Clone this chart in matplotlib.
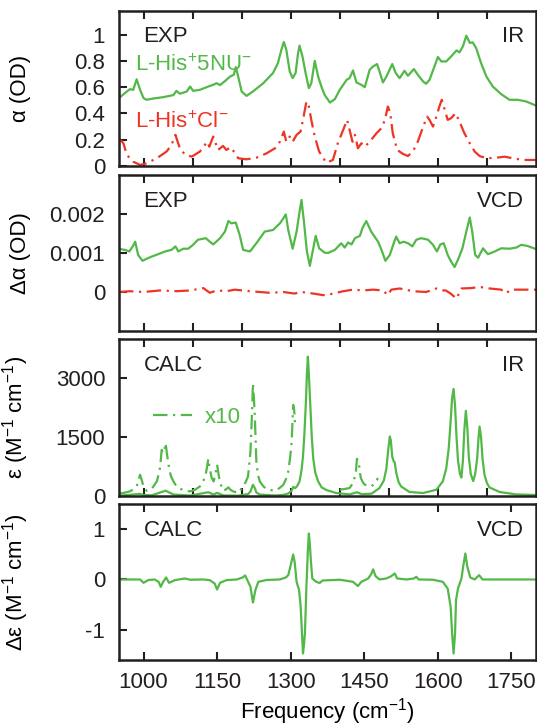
import matplotlib
matplotlib.use('Agg')
import matplotlib.pyplot as plt

# font: helvetica-like
plt.rcParams['font.family'] = ['Liberation Sans', 'DejaVu Sans']
plt.rcParams['mathtext.fontset'] = 'custom'
plt.rcParams['mathtext.rm'] = 'Liberation Sans'
plt.rcParams['mathtext.it'] = 'Liberation Sans:italic'
plt.rcParams['mathtext.default'] = 'regular'

# ---- data: (frequency cm-1, value) ----
# panel 1, experimental IR (OD)
exp_ir_5nu = [(950, 0.52), (952, 0.524), (962, 0.555), (972, 0.585), (979, 0.58), (986, 0.66),
              (993, 0.58), (1000, 0.517), (1006, 0.504), (1020, 0.514), (1040, 0.524), (1061, 0.54),
              (1067, 0.572), (1074, 0.55), (1088, 0.567), (1095, 0.605), (1101, 0.572), (1115, 0.58),
              (1132, 0.605), (1142, 0.618), (1149, 0.63), (1156, 0.616), (1169, 0.656), (1176, 0.68),
              (1184, 0.695), (1188, 0.753), (1193, 0.68), (1200, 0.567), (1210, 0.534), (1223, 0.567),
              (1244, 0.63), (1264, 0.708), (1274, 0.784), (1281, 0.885), (1286, 0.944), (1291, 0.885),
              (1298, 0.72), (1304, 0.669), (1310, 0.708), (1315, 0.86), (1318, 0.916), (1324, 0.834),
              (1331, 0.695), (1337, 0.593), (1342, 0.63), (1349, 0.80), (1356, 0.68), (1363, 0.60),
              (1369, 0.542), (1380, 0.483), (1390, 0.509), (1400, 0.58), (1414, 0.656), (1420, 0.669),
              (1427, 0.727), (1434, 0.636), (1444, 0.618), (1451, 0.60), (1461, 0.733), (1468, 0.758),
              (1476, 0.776), (1481, 0.72), (1488, 0.636), (1495, 0.68), (1507, 0.776), (1514, 0.708),
              (1522, 0.669), (1532, 0.725), (1539, 0.687), (1551, 0.738), (1559, 0.695), (1570, 0.643),
              (1576, 0.626), (1583, 0.656), (1593, 0.758), (1600, 0.83), (1607, 0.796), (1617, 0.796),
              (1627, 0.834), (1638, 0.88), (1644, 0.865), (1651, 0.911), (1658, 0.992), (1665, 0.937),
              (1671, 0.941), (1678, 0.898), (1688, 0.784), (1699, 0.68), (1712, 0.605), (1729, 0.547),
              (1746, 0.504), (1763, 0.504), (1780, 0.491), (1800, 0.46)]

exp_ir_cl = [(950, 0.21), (953, 0.198), (959, 0.173), (966, 0.084), (979, 0.033), (993, 0.008),
             (1006, 0.02), (1027, 0.059), (1047, 0.11), (1057, 0.16), (1065, 0.237), (1074, 0.135),
             (1084, 0.089), (1098, 0.071), (1115, 0.11), (1125, 0.16), (1130, 0.185), (1134, 0.147),
             (1142, 0.224), (1147, 0.173), (1152, 0.122), (1162, 0.153), (1169, 0.122), (1177, 0.143),
             (1186, 0.102), (1193, 0.059), (1210, 0.051), (1230, 0.063), (1251, 0.097), (1268, 0.135),
             (1278, 0.185), (1286, 0.262), (1291, 0.185), (1298, 0.224), (1304, 0.185), (1312, 0.237),
             (1320, 0.262), (1325, 0.351), (1332, 0.491), (1337, 0.453), (1342, 0.351), (1349, 0.224),
             (1358, 0.11), (1369, 0.045), (1373, 0.025), (1386, 0.046), (1396, 0.173), (1407, 0.275),
             (1415, 0.351), (1420, 0.275), (1426, 0.185), (1431, 0.237), (1437, 0.135), (1444, 0.173),
             (1451, 0.147), (1461, 0.185), (1475, 0.25), (1485, 0.288), (1492, 0.351), (1498, 0.453),
             (1503, 0.402), (1508, 0.25), (1517, 0.122), (1529, 0.092), (1539, 0.076), (1549, 0.11),
             (1559, 0.185), (1570, 0.30), (1578, 0.376), (1583, 0.351), (1590, 0.30), (1597, 0.376),
             (1603, 0.453), (1608, 0.504), (1614, 0.427), (1620, 0.351), (1627, 0.364), (1636, 0.402),
             (1644, 0.338), (1654, 0.25), (1665, 0.173), (1675, 0.11), (1685, 0.076), (1699, 0.059),
             (1719, 0.063), (1736, 0.071), (1753, 0.059), (1773, 0.046), (1800, 0.046)]

# panel 2, experimental VCD (OD)
exp_vcd_5nu = [(950, 0.00110), (952, 0.0011), (962, 0.00108), (971, 0.00104), (978, 0.00117),
               (983, 0.00129), (989, 0.00095), (998, 0.0008), (1006, 0.00085), (1017, 0.00091),
               (1030, 0.00097), (1044, 0.00104), (1057, 0.00108), (1065, 0.00117), (1071, 0.00104),
               (1081, 0.00111), (1091, 0.00111), (1101, 0.00121), (1111, 0.00134), (1127, 0.00138),
               (1135, 0.00129), (1142, 0.00122), (1156, 0.00138), (1166, 0.00155), (1173, 0.00182),
               (1179, 0.00176), (1188, 0.00178), (1196, 0.00146), (1203, 0.00108), (1217, 0.00104),
               (1230, 0.00125), (1247, 0.00155), (1264, 0.00159), (1278, 0.00176), (1285, 0.00189),
               (1290, 0.00199), (1295, 0.00159), (1304, 0.00111), (1312, 0.00155), (1317, 0.00197),
               (1322, 0.00236), (1327, 0.0018), (1333, 0.00104), (1339, 0.00067), (1346, 0.00112),
               (1351, 0.00144), (1358, 0.00112), (1369, 0.00101), (1376, 0.001), (1390, 0.00108),
               (1403, 0.00125), (1410, 0.00114), (1417, 0.00127), (1424, 0.00122), (1431, 0.00138),
               (1441, 0.00144), (1446, 0.00163), (1454, 0.00182), (1464, 0.00155), (1478, 0.00129),
               (1485, 0.00108), (1493, 0.0008), (1502, 0.00095), (1510, 0.00125), (1515, 0.00142),
               (1522, 0.00125), (1530, 0.00129), (1539, 0.00125), (1548, 0.00117), (1556, 0.00134),
               (1566, 0.00138), (1580, 0.00134), (1590, 0.00121), (1598, 0.00104), (1605, 0.00122),
               (1612, 0.00125), (1620, 0.00095), (1627, 0.00078), (1634, 0.00064), (1641, 0.00083),
               (1650, 0.00112), (1658, 0.00155), (1665, 0.00191), (1670, 0.00155), (1676, 0.00095),
               (1682, 0.00088), (1692, 0.00112), (1702, 0.00097), (1716, 0.00104), (1729, 0.00112),
               (1746, 0.00111), (1760, 0.00114), (1770, 0.00121), (1783, 0.00118), (1800, 0.0011)]

exp_vcd_cl = [(950, 0.0), (972, 0.00002), (1000, 0.0), (1034, 0.00004), (1067, 0.00002),
              (1095, 0.00004), (1122, 0.0001), (1135, -0.00002), (1149, 0.00004), (1169, 0.00002),
              (1186, 0.00006), (1217, 0.00002), (1237, 0.0), (1257, -0.00002), (1285, 0.0),
              (1308, -0.00004), (1322, 0.0), (1346, -0.00004), (1366, -0.00008), (1373, -0.00008),
              (1390, -0.00003), (1407, 0.00002), (1427, 0.00006), (1448, 0.00004), (1468, 0.00006),
              (1488, 0.00004), (1498, -0.00008), (1505, 0.00006), (1522, 0.00009), (1550, 0.00002),
              (1576, 0.0), (1597, 0.00009), (1607, 0.00004), (1616, 0.00004), (1626, -0.00004),
              (1638, -0.00017), (1648, 0.00009), (1668, 0.0001), (1685, 0.00013), (1706, 0.00009),
              (1729, 0.00006), (1739, -0.00003), (1749, 0.00006), (1800, 0.00006)]

# panel 3, calculated IR (M-1 cm-1)
calc_ir = [(950, 6), (993, 54), (1000, 24), (1017, 19), (1045, 135), (1061, 37), (1095, 12),
           (1132, 95), (1143, 37), (1150, 80), (1163, 14), (1193, 8), (1213, 50), (1218, 113),
           (1223, 287), (1227, 198), (1230, 88), (1237, 37), (1268, 14), (1285, 29), (1295, 63),
           (1302, 139), (1305, 232), (1309, 200), (1313, 250), (1318, 371), (1322, 650), (1325, 1000),
           (1328, 1600), (1331, 2400), (1333, 3100), (1335, 3550), (1337, 3100), (1340, 2300),
           (1343, 1500), (1346, 950), (1350, 600), (1356, 371), (1363, 220), (1373, 150), (1393, 76),
           (1420, 40), (1435, 95), (1445, 45), (1465, 60), (1481, 203), (1490, 400), (1495, 700),
           (1499, 1200), (1502, 1515), (1504, 1420), (1507, 1000), (1510, 880), (1512, 860),
           (1515, 600), (1520, 350), (1525, 244), (1542, 102), (1570, 76), (1597, 160), (1610, 371),
           (1617, 700), (1622, 1200), (1626, 1900), (1629, 2500), (1632, 2727), (1635, 2300),
           (1638, 1500), (1641, 900), (1645, 560), (1648, 470), (1651, 900), (1654, 1700),
           (1657, 2168), (1660, 1750), (1663, 1000), (1667, 560), (1672, 380), (1676, 560),
           (1680, 950), (1683, 1500), (1685, 1770), (1688, 1500), (1691, 950), (1695, 541),
           (1700, 330), (1705, 219), (1726, 102), (1760, 40), (1800, 25)]

# x10 magnified parts of the calculated IR
calc_ir_x10_a = [(950, 60), (960, 80), (972, 117), (981, 180), (986, 244), (990, 420), (993, 541),
                 (996, 420), (1000, 244), (1006, 135), (1017, 186), (1027, 371), (1031, 560),
                 (1034, 752), (1037, 1177), (1040, 1100), (1042, 1134), (1045, 1347), (1048, 1050),
                 (1052, 712), (1056, 500), (1061, 371), (1067, 250), (1074, 186), (1085, 140),
                 (1095, 117), (1105, 160), (1115, 244), (1125, 458), (1129, 700), (1132, 948),
                 (1135, 700), (1139, 458), (1143, 371), (1147, 600), (1150, 796), (1153, 550),
                 (1156, 330), (1163, 135), (1168, 170), (1173, 219), (1178, 150), (1183, 117),
                 (1193, 76), (1203, 244), (1208, 350), (1213, 498), (1218, 1134), (1221, 2066),
                 (1223, 2873), (1225, 2500), (1227, 1983), (1230, 880), (1233, 550), (1237, 371),
                 (1244, 250), (1250, 186), (1260, 150), (1268, 135), (1277, 200), (1285, 287),
                 (1290, 420), (1295, 625), (1299, 1000), (1302, 1388), (1304, 2000), (1305, 2321),
                 (1307, 2200), (1309, 1812)]
calc_ir_x10_b = [(1400, 160), (1410, 180), (1420, 203), (1427, 330), (1431, 500), (1433, 625),
                 (1435, 948), (1437, 900), (1439, 839), (1441, 600), (1443, 458), (1447, 350),
                 (1451, 287), (1457, 260), (1464, 244), (1470, 300), (1478, 458)]

# panel 4, calculated VCD (M-1 cm-1)
calc_vcd = [(950, 0), (993, 0), (1000, -0.066), (1010, -0.01), (1023, 0), (1031, -0.05),
            (1035, -0.146), (1040, -0.046), (1046, 0.04), (1052, -0.066), (1064, -0.013), (1084, 0.02),
            (1095, -0.005), (1122, 0), (1135, -0.013), (1145, -0.08), (1150, -0.2), (1156, -0.066),
            (1169, -0.013), (1190, 0), (1202, 0.04), (1207, 0.08), (1211, 0), (1218, -0.146),
            (1223, -0.457), (1228, -0.212), (1234, -0.046), (1251, -0.01), (1278, 0), (1290, 0.04),
            (1295, 0.086), (1300, 0.285), (1305, 0.497), (1308, 0.35), (1312, -0.046), (1317, -0.212),
            (1320, -0.5), (1322, -0.875), (1325, -1.47), (1327, -1.3), (1329, -1.07), (1332, -0.146),
            (1335, 0.583), (1337, 0.914), (1339, 0.7), (1341, 0.385), (1344, 0.02), (1352, -0.046),
            (1359, -0.07), (1365, -0.02), (1400, -0.005), (1427, -0.046), (1437, -0.13), (1444, -0.046),
            (1458, 0.02), (1464, 0.106), (1468, 0.2), (1473, 0.066), (1481, 0), (1495, 0.02),
            (1505, 0.066), (1512, 0.12), (1517, 0.02), (1536, 0), (1551, 0.02), (1556, 0.053),
            (1561, 0), (1590, -0.005), (1610, -0.046), (1620, -0.18), (1626, -0.543), (1629, -1.07),
            (1632, -1.47), (1635, -1.07), (1637, -0.41), (1641, -0.18), (1648, 0.02), (1652, 0.285),
            (1656, 0.517), (1660, 0.252), (1666, 0.04), (1675, 0), (1684, 0.086), (1691, 0),
            (1705, 0), (1800, 0)]

# axis ticks / labels
freq_ticks_minor = [1000, 1100, 1200, 1300, 1400, 1500, 1600, 1700]
freq_ticks = [1000, 1150, 1300, 1450, 1600, 1750]
ir_ticks = [0, 0.2, 0.4, 0.6, 0.8, 1.0]
ir_tick_labels = ['0', '0.2', '0.4', '0.6', '0.8', '1']
vcd_ticks = [0, 0.001, 0.002]
vcd_tick_labels = ['0', '0.001', '0.002']
calc_ir_ticks = [0, 1500, 3000]
calc_vcd_ticks = [-1, 0, 1]
calc_vcd_tick_labels = ['-1', '0', '1']

green = '#52b848'
red = '#ee3424'
dark = '#231f20'
fs = 16
dashdot = (0, (6.5, 2.5, 1, 2.5))

fig = plt.figure(figsize=(5.37, 7.27), dpi=100)
left, width = 119 / 537, 417 / 537
ax1 = fig.add_axes([left, 1 - 166 / 727, width, 155 / 727])
ax2 = fig.add_axes([left, 1 - 331 / 727, width, 156 / 727])
ax3 = fig.add_axes([left, 1 - 496 / 727, width, 157 / 727])
ax4 = fig.add_axes([left, 1 - 660 / 727, width, 156 / 727])


def xy(pairs):
    return [p[0] for p in pairs], [p[1] for p in pairs]


# panel 1
ax1.plot(*xy(exp_ir_5nu), color=green, lw=1.6)
ax1.plot(*xy(exp_ir_cl), color=red, lw=1.6, linestyle=dashdot)
ax1.set_ylim(0, 1.18)
ax1.set_yticks(ir_ticks, ir_tick_labels)
ax1.set_ylabel('α (OD)')
ax1.text(0.038, 0.615, 'L-His$^{+}$5NU$^{-}$', color=green, fontsize=fs, transform=ax1.transAxes)
ax1.text(0.038, 0.243, 'L-His$^{+}$Cl$^{-}$', color=red, fontsize=fs, transform=ax1.transAxes)

# panel 2
ax2.plot(*xy(exp_vcd_5nu), color=green, lw=1.6)
ax2.plot(*xy(exp_vcd_cl), color=red, lw=1.6, linestyle=dashdot)
ax2.set_ylim(-0.001, 0.003)
ax2.set_yticks(vcd_ticks, vcd_tick_labels)
ax2.set_ylabel('Δα (OD)')

# panel 3
ax3.plot(*xy(calc_ir), color=green, lw=1.6)
l10, = ax3.plot(*xy(calc_ir_x10_a), color=green, lw=1.6, linestyle=dashdot)
ax3.plot(*xy(calc_ir_x10_b), color=green, lw=1.6, linestyle=dashdot)
ax3.set_ylim(0, 4000)
ax3.set_yticks(calc_ir_ticks, [str(t) for t in calc_ir_ticks])
ax3.set_ylabel('ε (M$^{-1}$ cm$^{-1}$)')
ax3.legend([l10], ['x10'], loc='center left', bbox_to_anchor=(0.082, 0.5), frameon=False,
           fontsize=fs, labelcolor=green, handlelength=1.75, handletextpad=0.55,
           borderpad=0, borderaxespad=0)

# panel 4
ax4.plot(*xy(calc_vcd), color=green, lw=1.6)
ax4.set_ylim(-1.6, 1.5)
ax4.set_yticks(calc_vcd_ticks, calc_vcd_tick_labels)
ax4.set_ylabel('Δε (M$^{-1}$ cm$^{-1}$)')

# corner labels
corner = [(ax1, 'EXP', 'IR'), (ax2, 'EXP', 'VCD'), (ax3, 'CALC', 'IR'), (ax4, 'CALC', 'VCD')]
for ax, lt, rt in corner:
    ax.text(0.059, 0.798, lt, fontsize=fs, color=dark, transform=ax.transAxes, va='baseline')
    ax.text(0.971, 0.798, rt, fontsize=fs, color=dark, transform=ax.transAxes, va='baseline', ha='right')

for ax in [ax1, ax2, ax3, ax4]:
    ax.set_xlim(950, 1800)
    for s in ax.spines.values():
        s.set_linewidth(1.8)
        s.set_color(dark)
    ax.tick_params(direction='in', top=True, right=False, length=6, width=1.5,
                   colors=dark, labelsize=fs, pad=10)
    ax.yaxis.label.set_size(fs)
    ax.yaxis.set_label_coords(-0.21, 0.5)

for ax in [ax1, ax2, ax3]:
    ax.set_xticks(freq_ticks_minor)
    ax.tick_params(labelbottom=False)
ax4.set_xticks(freq_ticks, [str(t) for t in freq_ticks])
ax4.tick_params(axis='x', pad=9)
ax4.set_xlabel('Frequency (cm$^{-1}$)', fontsize=fs, labelpad=2)

fig.savefig('out.png', dpi=100)
